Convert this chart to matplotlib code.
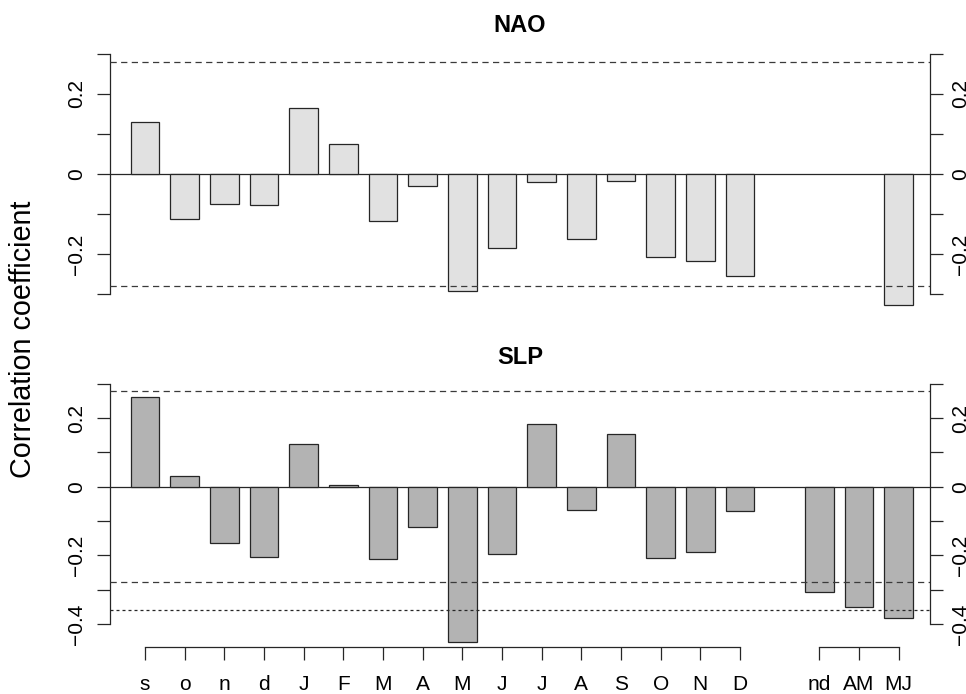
import numpy as np
import matplotlib
matplotlib.use("Agg")
import matplotlib.pyplot as plt

plt.rcParams['font.family'] = ['Liberation Sans', 'DejaVu Sans']

labels = ["s", "o", "n", "d", "J", "F", "M", "A", "M", "J", "J", "A", "S", "O", "N", "D", "nd", "AM", "MJ"]
positions = [0, 1, 2, 3, 4, 5, 6, 7, 8, 9, 10, 11, 12, 13, 14, 15, 17, 18, 19]

nao = [0.130, -0.113, -0.075, -0.0775, 0.164, 0.075, -0.1175, -0.029, -0.2925,
       -0.185, -0.019, -0.162, -0.017, -0.207, -0.2175, -0.254,
       np.nan, np.nan, -0.328]
slp = [0.260, 0.032, -0.165, -0.204, 0.124, 0.004, -0.210, -0.117, -0.451,
       -0.196, 0.184, -0.069, 0.154, -0.208, -0.191, -0.070,
       -0.307, -0.350, -0.381]

nao_sig = [0.279, -0.279]
slp_sig = [0.280, -0.278]
slp_sig2 = [-0.360]

W, H = 966, 694
fig = plt.figure(figsize=(W / 100, H / 100), dpi=100)

def px_axes(x0, x1, y0, y1):
    return fig.add_axes([x0 / W, 1 - y1 / H, (x1 - x0) / W, (y1 - y0) / H])

line_col = '#262626'
dash_col = '#3a3a3a'
tick_fs = 15
xlim = (-0.882, 19.79)

def style_panel(ax, ylim, ybounds, yticks, ylabels, color, values, sig, sig2=None):
    ax.set_xlim(*xlim)
    ax.set_ylim(*ylim)
    ax.bar(positions, values, width=0.72, color=color, edgecolor=line_col, linewidth=0.9, zorder=3)
    ax.axhline(0, color=line_col, linewidth=0.9, zorder=2)
    for s in sig:
        ax.axhline(s, color=dash_col, linewidth=0.9, linestyle=(0, (5, 3.5)), zorder=4)
    if sig2:
        for s in sig2:
            ax.axhline(s, color=line_col, linewidth=0.9, linestyle=(0, (2.4, 2.4)), zorder=4)
    for side in ['top', 'bottom']:
        ax.spines[side].set_visible(False)
    ax.spines['right'].set_visible(False)
    ax.spines['left'].set_bounds(*ybounds)
    ax.spines['left'].set_color(line_col)
    ax.spines['left'].set_linewidth(0.9)
    ax.set_yticks(yticks)
    ax.set_yticklabels(ylabels)
    ax.tick_params(axis='y', direction='out', length=9.4, width=0.9, color=line_col,
                   labelsize=tick_fs, labelrotation=90, pad=8)
    for t in ax.get_yticklabels():
        t.set_va('center')
    ax.set_xticks([])
    # right axis
    ax2 = ax.twinx()
    ax2.set_ylim(*ylim)
    for side in ['top', 'bottom', 'left']:
        ax2.spines[side].set_visible(False)
    ax2.spines['right'].set_bounds(*ybounds)
    ax2.spines['right'].set_color(line_col)
    ax2.spines['right'].set_linewidth(0.9)
    ax2.set_yticks(yticks)
    ax2.set_yticklabels(ylabels)
    ax2.tick_params(axis='y', direction='out', length=9.4, width=0.9, color=line_col,
                    labelsize=tick_fs, labelrotation=90, pad=6)
    for t in ax2.get_yticklabels():
        t.set_va('center')
    return ax, ax2

# Top panel: NAO
ax1 = px_axes(110, 930, 40, 310)
top_ticks = [-0.3, -0.2, -0.1, 0, 0.1, 0.2, 0.3]
top_labels = ["", "\u22120.2", "", "0", "", "0.2", ""]
style_panel(ax1, (-0.34, 0.335), (-0.3, 0.3), top_ticks, top_labels, '#e1e1e1', nao, nao_sig)

# Bottom panel: SLP
axb = px_axes(110, 930, 380.3, 647.4)
bot_ticks = [-0.4, -0.3, -0.2, -0.1, 0, 0.1, 0.2, 0.3]
bot_labels = ["\u22120.4", "", "\u22120.2", "", "0", "", "0.2", ""]
axb_, axb2 = style_panel(axb, (-0.468, 0.31), (-0.4, 0.3), bot_ticks, bot_labels, '#b3b3b3', slp, slp_sig, slp_sig2)

# bottom x axis, in two groups
ybot = -0.468
axb.set_xticks(positions)
axb.set_xticklabels(labels)
axb.tick_params(axis='x', direction='out', length=9.4, width=0.9, color=line_col,
                labelsize=tick_fs, pad=10.5)
axb.plot([positions[0], positions[15]], [ybot, ybot], color=line_col, linewidth=0.9,
         clip_on=False, zorder=5)
axb.plot([positions[16], positions[18]], [ybot, ybot], color=line_col, linewidth=0.9,
         clip_on=False, zorder=5)

# Titles
fig.text(520 / W, 1 - 25 / H, "NAO", ha='center', va='center', fontsize=17, fontweight='bold')
fig.text(520 / W, 1 - 358 / H, "SLP", ha='center', va='center', fontsize=17, fontweight='bold')

# Shared y label
fig.text(23.5 / W, 1 - 339 / H, "Correlation coefficient", rotation=90,
         ha='center', va='center', fontsize=20.7)

fig.savefig("out.png", dpi=100)
